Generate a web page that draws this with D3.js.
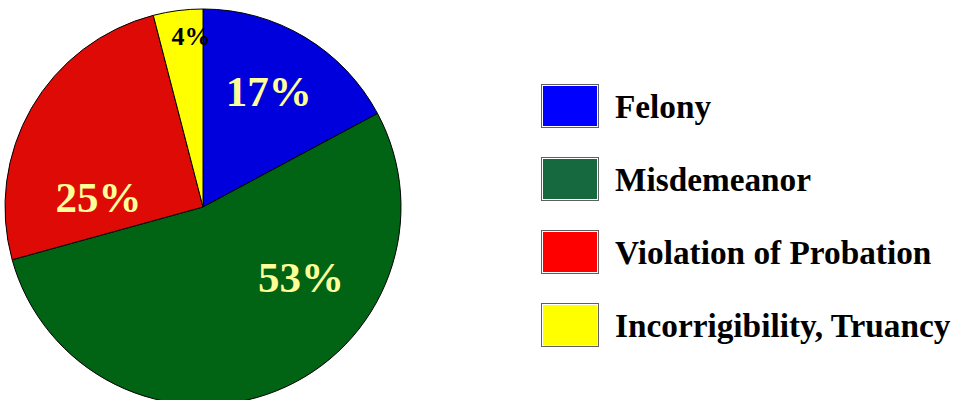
<!DOCTYPE html>
<html>
<head>
<meta charset="utf-8">
<script src="https://cdn.jsdelivr.net/npm/d3@7"></script>
<style>
  html, body { margin: 0; padding: 0; background: #fff; }
  svg { display: block; }
</style>
</head>
<body>
<svg id="chart" width="955" height="400"></svg>
<script>
// Offense categories and their shares (percent)
const categories = ["Felony", "Misdemeanor", "Violation of Probation", "Incorrigibility, Truancy"];
const shares = [17, 53, 25, 4];

// Colours: slice fills and legend swatch fills
const sliceColors = ["#0000dd", "#006414", "#dd0a05", "#ffff00"];
const swatchColors = ["#0000ff", "#16683e", "#ff0000", "#ffff00"];
const labelColors = ["#ffff99", "#ffff99", "#ffff99", "#000000"];

// Label placement around the pie centre: [angle in degrees clockwise from top, radius in px, font size]
const labelPlacement = [[29.6, 133, 43], [125.9, 121, 43], [275.4, 105, 43], [356, 171, 26]];

const svg = d3.select("#chart");
const cx = 203, cy = 207, R = 198;

const data = categories.map((c, i) => ({ category: c, value: shares[i], i }));

const pie = d3.pie().value(d => d.value).sort(null);
const arc = d3.arc().innerRadius(0).outerRadius(R);
const color = d3.scaleOrdinal().domain(categories).range(sliceColors);
const swatch = d3.scaleOrdinal().domain(categories).range(swatchColors);

const g = svg.append("g").attr("transform", `translate(${cx},${cy})`);

g.selectAll("path.slice")
  .data(pie(data))
  .join("path")
  .attr("class", "slice")
  .attr("d", arc)
  .attr("fill", d => color(d.data.category))
  .attr("stroke", "#000")
  .attr("stroke-width", 1);

// Percentage labels
g.selectAll("text.pct")
  .data(pie(data))
  .join("text")
  .attr("class", "pct")
  .attr("x", d => { const p = labelPlacement[d.data.i]; return p[1] * Math.sin(p[0] * Math.PI / 180); })
  .attr("y", d => { const p = labelPlacement[d.data.i]; return -p[1] * Math.cos(p[0] * Math.PI / 180); })
  .attr("text-anchor", "middle")
  .attr("dominant-baseline", "central")
  .attr("font-family", "'Liberation Serif', 'Times New Roman', serif")
  .attr("font-weight", "bold")
  .attr("font-size", d => labelPlacement[d.data.i][2])
  .attr("fill", d => labelColors[d.data.i])
  .text(d => d.data.value + "%");

// Legend
const legendY = d3.scalePoint().domain(categories).range([106, 325]);
const legend = svg.append("g");
const items = legend.selectAll("g.item")
  .data(data)
  .join("g")
  .attr("class", "item")
  .attr("transform", d => `translate(541,${legendY(d.category)})`);

items.append("rect")
  .attr("x", 0.5).attr("y", -21.5)
  .attr("width", 57).attr("height", 43)
  .attr("fill", "#fff")
  .attr("stroke", "#606060")
  .attr("stroke-width", 1);
items.append("rect")
  .attr("x", 2).attr("y", -20)
  .attr("width", 54).attr("height", 40)
  .attr("fill", d => swatch(d.category));

items.append("text")
  .attr("x", 74)
  .attr("y", 11.5)
  .attr("font-family", "'Liberation Serif', 'Times New Roman', serif")
  .attr("font-weight", "bold")
  .attr("font-size", 33.3)
  .attr("fill", "#000")
  .text(d => d.category);
</script>
</body>
</html>
